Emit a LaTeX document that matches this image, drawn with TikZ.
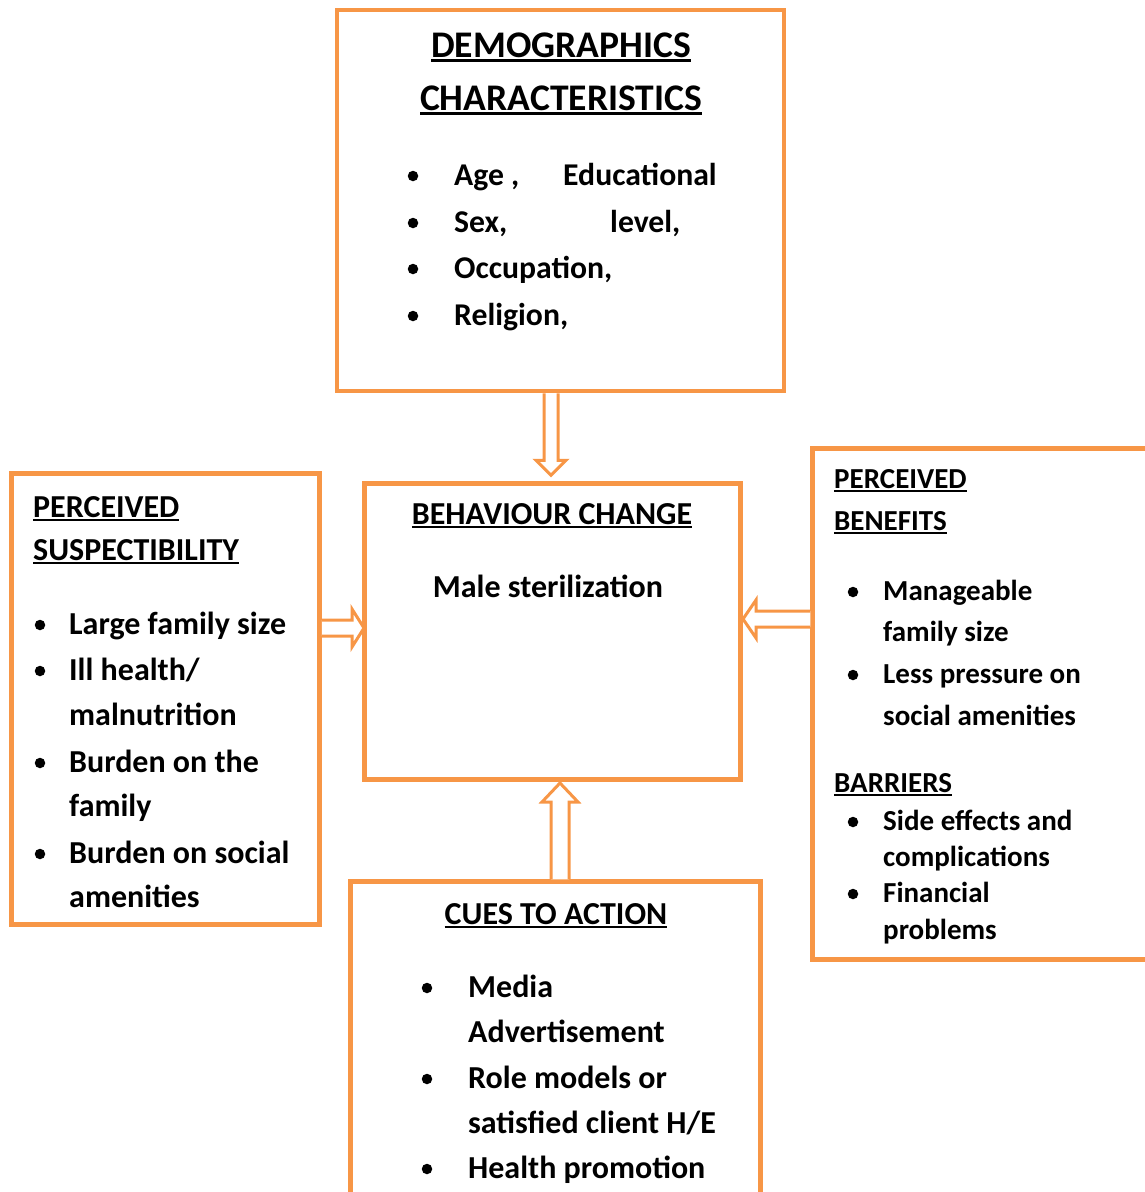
\documentclass[tikz,border=0pt]{standalone}
\usepackage{fontspec}
\setmainfont{Carlito}
\usetikzlibrary{calc}
\definecolor{org}{HTML}{F79646}
\newcommand\ulx[1]{\setbox0\hbox{#1}\rlap{\rule[-0.14em]{\wd0}{0.08em}}\box0}
\begin{document}
\begin{tikzpicture}[x=1pt,y=-1pt,
  box/.style={draw=org, line width=4.5pt, inner sep=0pt, fill=white},
  harrow/.style={draw=org, fill=white, line width=3pt, line join=miter},
  txt/.style={inner sep=0pt, anchor=base west, font=\bfseries\fontsize{#1}{#1}\selectfont},
  txc/.style={inner sep=0pt, anchor=base, font=\bfseries\fontsize{#1}{#1}\selectfont},
  bul/.style={fill=black, circle, inner sep=0pt, minimum size=10.5pt}]
\useasboundingbox (0,0) rectangle (1145,1192);

% boxes
\node[box, minimum width=447pt, minimum height=381pt] (demo) at (560.5,200.5) {};
\node[box, minimum width=308pt, minimum height=451pt] (susc) at (165.5,699) {};
\node[box, minimum width=376pt, minimum height=296pt] (beh) at (552.5,631.5) {};
\node[box, minimum width=340pt, minimum height=511pt] (ben) at (982.5,704) {};
\node[box, minimum width=410pt, minimum height=323pt] (cues) at (555.5,1043) {};

% demographics
\node[txc=37.6] (d1) at (561,57) {\ulx{DEMOGRAPHICS}};
\node[txc=37.6] (d2) at (561,110) {\ulx{CHARACTERISTICS}};
\node[bul] (db1) at (413,176) {};
\node[bul] (db2) at (413,223) {};
\node[bul] (db3) at (413,269) {};
\node[bul] (db4) at (413,316) {};
\node[txt=31.7] (d3) at (454,185) {Age ,};
\node[txt=31.7] (d4) at (563,185) {Educational};
\node[txt=31.7] (d5) at (454,232) {Sex,};
\node[txt=31.7] (d6) at (610,232) {level,};
\node[txt=31.7] (d7) at (454,278) {Occupation,};
\node[txt=31.7] (d8) at (454,325) {Religion,};

% behaviour change
\node[txc=32] (bc1) at (552,524) {\ulx{BEHAVIOUR CHANGE}};
\node[txc=32] (bc2) at (548,597) {Male sterilization};

% perceived susceptibility
\node[txt=32] (s1) at (33,517) {\ulx{PERCEIVED}};
\node[txt=32] (s2) at (33,560) {\ulx{SUSPECTIBILITY}};
\node[bul] (sb1) at (40,625) {};
\node[bul] (sb2) at (40,671) {};
\node[bul] (sb3) at (40,763) {};
\node[bul] (sb4) at (40,854) {};
\node[txt=32] (s3) at (69,634) {Large family size};
\node[txt=32] (s4) at (69,680) {Ill health/};
\node[txt=32] (s5) at (69,725) {malnutrition};
\node[txt=32] (s6) at (69,772) {Burden on the};
\node[txt=32] (s7) at (69,816) {family};
\node[txt=32] (s8) at (69,863) {Burden on social};
\node[txt=32] (s9) at (69,907) {amenities};

% perceived benefits / barriers
\node[txt=29] (p1) at (834,488) {\ulx{PERCEIVED}};
\node[txt=29] (p2) at (834,530) {\ulx{BENEFITS}};
\node[bul] (pb1) at (853,592) {};
\node[bul] (pb2) at (853,675) {};
\node[bul] (pb3) at (853,822) {};
\node[bul] (pb4) at (853,894) {};
\node[txt=29] (p3) at (883,600) {Manageable};
\node[txt=29] (p4) at (883,641) {family size};
\node[txt=29] (p5) at (883,683) {Less pressure on};
\node[txt=29] (p6) at (883,725) {social amenities};
\node[txt=29] (p7) at (834,792) {\ulx{BARRIERS}};
\node[txt=29] (p8) at (883,830) {Side effects and};
\node[txt=29] (p9) at (883,866) {complications};
\node[txt=29] (p10) at (883,902) {Financial};
\node[txt=29] (p11) at (883,939) {problems};

% cues to action
\node[txc=32] (c1) at (556,924) {\ulx{CUES TO ACTION}};
\node[bul] (cb1) at (427,988) {};
\node[bul] (cb2) at (427,1079) {};
\node[bul] (cb3) at (427,1169) {};
\node[txt=32] (c2) at (468,997) {Media};
\node[txt=32] (c3) at (468,1042) {Advertisement};
\node[txt=32] (c4) at (468,1088) {Role models or};
\node[txt=32] (c5) at (468,1133) {satisfied client H/E};
\node[txt=32] (c6) at (468,1178) {Health promotion};

% hollow arrows
\path ($(demo.south)+(-9.5,0)$) coordinate (a1s) ($(beh.north)+(-1.5,-6)$) coordinate (a1e);
\draw[harrow] ($(a1s)+(-7,0)$) -- ($(a1e)+(-7,-15)$) -- ($(a1e)+(-15,-15)$) -- (a1e)
  -- ($(a1e)+(15,-15)$) -- ($(a1e)+(7,-15)$) -- ($(a1s)+(7,0)$);

\path ($(susc.east)+(0,-71)$) coordinate (a2s) ($(beh.west)+(1.75,-3.5)$) coordinate (a2e);
\draw[harrow] ($(a2s)+(0,-8)$) -- ($(a2e)+(-12,-8)$) -- ($(a2e)+(-12,-19)$) -- (a2e)
  -- ($(a2e)+(-12,19)$) -- ($(a2e)+(-12,8)$) -- ($(a2s)+(0,8)$);

\path ($(ben.west)+(0,-85)$) coordinate (a3s) ($(beh.east)+(0.25,-12.5)$) coordinate (a3e);
\draw[harrow] ($(a3s)+(0,-8)$) -- ($(a3e)+(13,-8)$) -- ($(a3e)+(13,-19)$) -- (a3e)
  -- ($(a3e)+(13,19)$) -- ($(a3e)+(13,8)$) -- ($(a3s)+(0,8)$);

\path ($(cues.north)+(4.5,0)$) coordinate (a4s) ($(beh.south)+(7.5,1.25)$) coordinate (a4e);
\draw[harrow] ($(a4s)+(-9,0)$) -- ($(a4e)+(-9,19)$) -- ($(a4e)+(-18,19)$) -- (a4e)
  -- ($(a4e)+(18,19)$) -- ($(a4e)+(9,19)$) -- ($(a4s)+(9,0)$);
\end{tikzpicture}
\end{document}
